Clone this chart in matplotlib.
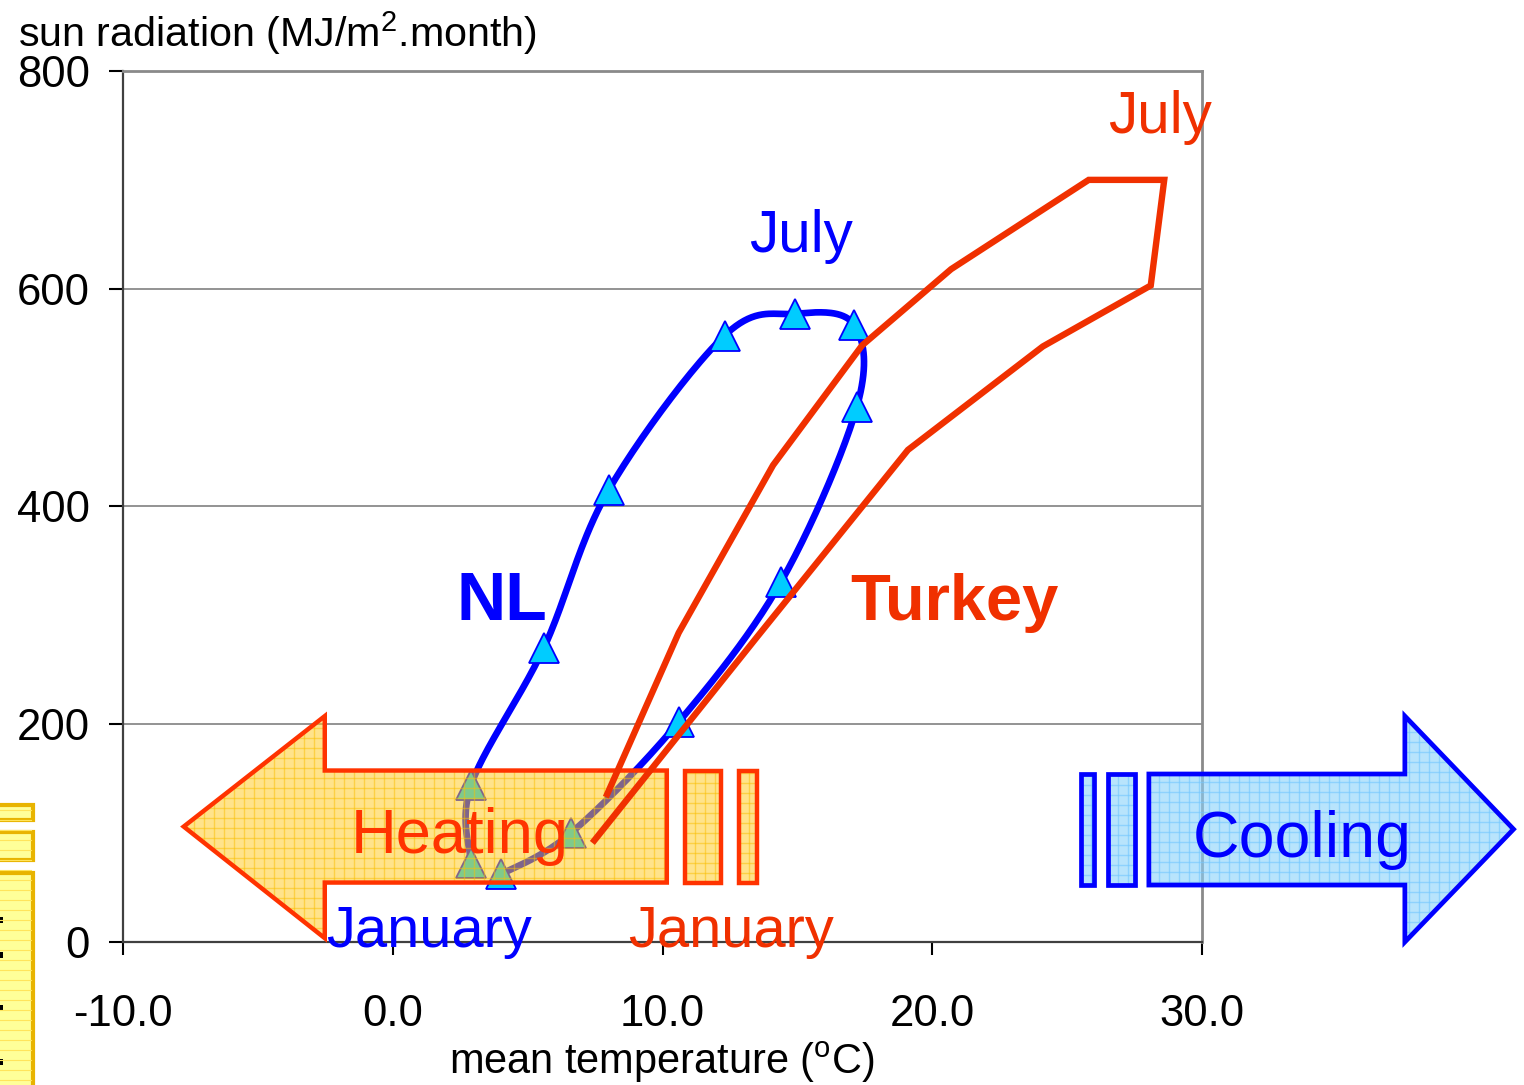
import numpy as np
import matplotlib
matplotlib.use('Agg')
import matplotlib.pyplot as plt
from matplotlib.patches import Polygon, Rectangle
from matplotlib.collections import LineCollection
from matplotlib import font_manager

# ---------------- data ----------------
months = ['Jan', 'Feb', 'Mar', 'Apr', 'May', 'Jun', 'Jul', 'Aug', 'Sep', 'Oct', 'Nov', 'Dec']
nl_temp = [2.9, 2.9, 5.6, 8.0, 12.3, 14.9, 17.1, 17.2, 14.4, 10.6, 6.6, 4.0]
nl_rad = [73, 144, 270, 415, 557, 577, 567, 491, 331, 202, 100, 62]
tr_temp = [7.9, 10.6, 14.1, 17.4, 20.7, 25.8, 28.6, 28.1, 24.1, 19.1, 13.5, 7.4]
tr_rad = [133, 284, 438, 548, 618, 700, 700, 603, 547, 452, 280, 91]
xticks = [-10, 0, 10, 20, 30]
yticks = [0, 200, 400, 600, 800]
xtick_labels = ['-10.0', '0.0', '10.0', '20.0', '30.0']

# ---------------- fonts ----------------
avail = {f.name for f in font_manager.fontManager.ttflist}
FONT = 'Liberation Sans'
SC = 0.86
for cand in ['Liberation Sans Narrow', 'Arial Narrow']:
    if cand in avail:
        FONT = cand
        SC = 1.0
        break
plt.rcParams['font.family'] = [FONT, 'DejaVu Sans']
plt.rcParams['mathtext.fontset'] = 'custom'
plt.rcParams['mathtext.rm'] = FONT
plt.rcParams['mathtext.it'] = FONT
plt.rcParams['mathtext.bf'] = FONT

W, H = 1524, 1085
fig = plt.figure(figsize=(W / 100, H / 100), dpi=100)
ax = fig.add_axes([123 / W, 1 - 942 / H, (1202 - 123) / W, (942 - 71) / H])
ax.set_xlim(-10, 30)
ax.set_ylim(0, 800)

# ---------------- axes styling ----------------
ax.set_xticks(xticks)
ax.set_xticklabels(xtick_labels)
ax.set_yticks(yticks)
ax.tick_params(axis='y', length=10, width=1.5, pad=14, labelsize=36.5 * SC, colors='black')
ax.tick_params(axis='x', length=9.5, width=1.5, pad=28, labelsize=36.5 * SC, colors='black')
for s in ['left', 'bottom']:
    ax.spines[s].set_color('#404040')
    ax.spines[s].set_linewidth(1.6)
for s in ['top', 'right']:
    ax.spines[s].set_color('#8a8a8a')
    ax.spines[s].set_linewidth(2.0)
ax.grid(axis='y', color='#808080', linewidth=1.2)
ax.set_axisbelow(True)

fig.text(18 / W, 1 - 47 / H, r'sun radiation (MJ/m$^2$.month)', fontsize=34.5 * SC,
         ha='left', va='baseline')
fig.text(662 / W, 1 - 1074 / H, r'mean temperature ($^{\rm o}$C)', fontsize=34.8 * SC,
         ha='center', va='baseline')


# ---------------- smoothed NL curve (Catmull-Rom, like Excel smoothing) ----------------
def smooth(xs, ys, n=40):
    P = np.column_stack([xs, ys]).astype(float)
    P = np.vstack([P[0], P, P[-1]])
    out = []
    for i in range(1, len(P) - 2):
        p0, p1, p2, p3 = P[i - 1], P[i], P[i + 1], P[i + 2]
        c1 = p1 + (p2 - p0) / 6.0
        c2 = p2 - (p3 - p1) / 6.0
        t = np.linspace(0, 1, n)[:, None]
        seg = ((1 - t) ** 3) * p1 + 3 * ((1 - t) ** 2) * t * c1 + 3 * (1 - t) * t ** 2 * c2 + t ** 3 * p2
        out.append(seg if i == 1 else seg[1:])
    out = np.vstack(out)
    return out[:, 0], out[:, 1]


sx, sy = smooth(nl_temp, nl_rad)
ax.plot(sx, sy, color='#0000FF', lw=4.8, zorder=3, solid_capstyle='butt', solid_joinstyle='round')
ax.plot(nl_temp, nl_rad, linestyle='none', marker='^', markersize=21,
        markerfacecolor='#00CCFF', markeredgecolor='#0000FF', markeredgewidth=1.3, zorder=3.2)


# ---------------- block arrows ----------------
def grid_lines(x0, x1, y0, y1, dx, dy):
    segs = []
    for x in np.arange(x0, x1 + dx, dx):
        segs.append([(x, y0), (x, y1)])
    for y in np.arange(y0, y1 + dy, dy):
        segs.append([(x0, y), (x1, y)])
    return segs


def block(verts, fill, alpha, edge, lw, gridcol, z):
    face = Polygon(verts, closed=True, facecolor=fill, alpha=alpha, edgecolor='none',
                   transform=ax.transData, clip_on=False, zorder=z)
    ax.add_patch(face)
    xs = [v[0] for v in verts]
    ys = [v[1] for v in verts]
    lc = LineCollection(grid_lines(min(xs), max(xs), min(ys), max(ys), 10 / 26.975, 10 / 1.089),
                        colors=gridcol, linewidths=1.0, transform=ax.transData, zorder=z + 0.05)
    lc.set_clip_path(face)
    ax.add_collection(lc, autolim=False)
    border = Polygon(verts, closed=True, facecolor='none', edgecolor=edge, lw=lw,
                     joinstyle='miter', transform=ax.transData, clip_on=False, zorder=z + 0.1)
    ax.add_patch(border)


HEAT_FILL, HEAT_GRID, HEAT_EDGE = '#FFC919', (0.98, 0.75, 0.0, 0.5), '#FF3300'
heat_arrow = [(-7.75, 106), (-2.52, 207.5), (-2.52, 157.5), (10.16, 157.5),
              (10.16, 54.6), (-2.52, 54.6), (-2.52, 3.5)]
block(heat_arrow, HEAT_FILL, 0.5, HEAT_EDGE, 3.2, HEAT_GRID, 4)
for (a, b) in [(10.84, 12.16), (12.85, 13.49)]:
    block([(a, 157.5), (b, 157.5), (b, 54.6), (a, 54.6)], HEAT_FILL, 0.5, HEAT_EDGE, 3.2, HEAT_GRID, 4)

COOL_FILL, COOL_GRID, COOL_EDGE = '#8AD2FA', (0.45, 0.78, 1.0, 0.6), '#0000FF'
cool_arrow = [(28.03, 154.3), (37.52, 154.3), (37.52, 207.5), (41.55, 103.6),
              (37.52, 0.0), (37.52, 52.3), (28.03, 52.3)]
block(cool_arrow, COOL_FILL, 0.6, COOL_EDGE, 3.4, COOL_GRID, 4)
for (a, b) in [(25.51, 26.01), (26.51, 27.51)]:
    block([(a, 154.3), (b, 154.3), (b, 52.3), (a, 52.3)], COOL_FILL, 0.6, COOL_EDGE, 3.4, COOL_GRID, 4)

# Turkey line (straight segments) on top of the arrow fill
ax.plot(tr_temp, tr_rad, color='#F03000', lw=4.6, zorder=4.5, solid_joinstyle='miter',
        solid_capstyle='butt', clip_on=False)

# ---------------- partial yellow boxes at left edge (figure pixels) ----------------
def fig_rect(x0, y0, x1, y1, **kw):
    r = Rectangle((x0 / W, 1 - y1 / H), (x1 - x0) / W, (y1 - y0) / H,
                  transform=fig.transFigure, **kw)
    fig.patches.append(r)
    return r


for (y0, y1) in [(805, 820), (832, 860), (873, 1100)]:
    fig_rect(-10, y0, 33, y1, facecolor='#FFFF99', edgecolor='#E8B400', lw=3)
for y in range(810, 1090, 10):
    fig.add_artist(plt.Line2D([0, 31 / W], [1 - y / H, 1 - y / H], transform=fig.transFigure,
                              color='#FFE45C', lw=0.8))
for y in [920, 955, 1008, 1062]:
    fig_rect(0, y - 3, 3, y + 3, facecolor='black', edgecolor='none')

# ---------------- text labels ----------------
ax.text(4.04, 295.7, 'NL', color='#0000FF', fontsize=57 * SC, fontweight='bold',
        ha='center', va='baseline', zorder=6)
ax.text(20.83, 295.7, 'Turkey', color='#F03000', fontsize=54.5 * SC, fontweight='bold',
        ha='center', va='baseline', zorder=6)
ax.text(15.13, 633.6, 'July', color='#0000FF', fontsize=49 * SC, ha='center', va='baseline', zorder=6)
ax.text(28.43, 742.9, 'July', color='#F03000', fontsize=49 * SC, ha='center', va='baseline',
        zorder=6, clip_on=False)
ax.text(1.33, -4.3, 'January', color='#0000FF', fontsize=48.5 * SC, ha='center', va='baseline',
        zorder=6, clip_on=False)
ax.text(12.53, -4.3, 'January', color='#F03000', fontsize=48.5 * SC, ha='center', va='baseline',
        zorder=6, clip_on=False)
ax.text(2.48, 81.4, 'Heating', color='#FF3300', fontsize=53 * SC, ha='center', va='baseline', zorder=6)
ax.text(33.73, 78.3, 'Cooling', color='#0000FF', fontsize=54 * SC, ha='center', va='baseline',
        zorder=6, clip_on=False)

fig.savefig('out.png', dpi=100)
